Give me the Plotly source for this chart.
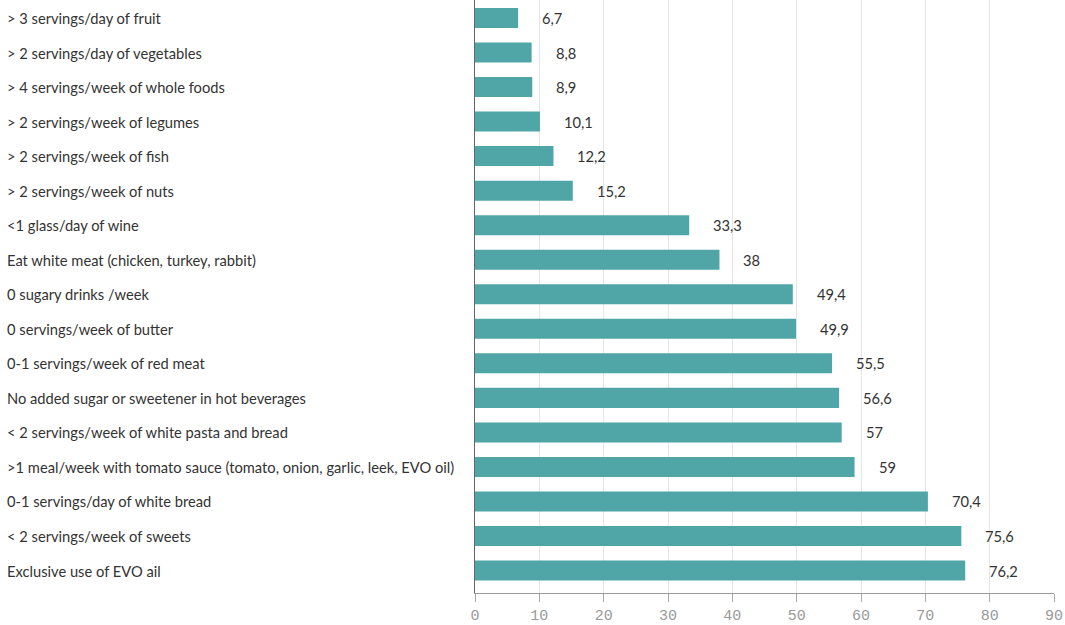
import plotly.graph_objects as go

categories = [
    "> 3 servings/day of fruit",
    "> 2 servings/day of vegetables",
    "> 4 servings/week of whole foods",
    "> 2 servings/week of legumes",
    "> 2 servings/week of fish",
    "> 2 servings/week of nuts",
    "<1 glass/day of wine",
    "Eat white meat (chicken, turkey, rabbit)",
    "0 sugary drinks /week",
    "0 servings/week of butter",
    "0-1 servings/week of red meat",
    "No added sugar or sweetener in hot beverages",
    "< 2 servings/week of white pasta and bread",
    ">1 meal/week with tomato sauce (tomato, onion, garlic, leek, EVO oil)",
    "0-1 servings/day of white bread",
    "< 2 servings/week of sweets",
    "Exclusive use of EVO ail",
]
values = [6.7, 8.8, 8.9, 10.1, 12.2, 15.2, 33.3, 38, 49.4, 49.9, 55.5, 56.6, 57, 59, 70.4, 75.6, 76.2]
x_ticks = [0, 10, 20, 30, 40, 50, 60, 70, 80, 90]

def fmt(v):
    s = ("%g" % v)
    return s.replace(".", ",")

idx = list(range(len(categories)))

fig = go.Figure()
fig.add_trace(go.Bar(
    x=values, y=idx, orientation="h",
    marker=dict(color="#50a6a7", line=dict(width=0)),
    width=0.58, hoverinfo="x+y",
))

ann = []
for i, (c, v) in enumerate(zip(categories, values)):
    ann.append(dict(x=-0.8118, xref="paper", y=i, yref="y", text=c, showarrow=False,
                    xanchor="left", yanchor="middle", font=dict(size=14.7, color="#333333")))
    ann.append(dict(x=v, xref="x", y=i, yref="y", text=fmt(v), showarrow=False,
                    xanchor="left", yanchor="middle", xshift=22,
                    font=dict(size=14.7, color="#333333")))

fig.update_layout(
    width=1065, height=625,
    margin=dict(l=475, r=11, t=0, b=32),
    plot_bgcolor="white", paper_bgcolor="white",
    font=dict(family="Lato, 'Source Sans Pro', sans-serif", size=14.7, color="#333333"),
    showlegend=False,
    annotations=ann,
    xaxis=dict(range=[0, 90], tickvals=x_ticks, ticktext=[str(t) for t in x_ticks],
               showgrid=True, gridcolor="#e6e6e6", gridwidth=1,
               showline=True, linecolor="#999999", linewidth=1,
               ticks="outside", ticklen=8, tickcolor="#aaaaaa",
               tickfont=dict(family="Liberation Mono, monospace", size=15, color="#999999"),
               zeroline=False),
    yaxis=dict(range=[16.65, -0.52], showticklabels=False, showgrid=False,
               showline=True, linecolor="#666666", linewidth=1, zeroline=False, ticks=""),
)

fig.write_html("out.html", config={"displayModeBar": False},
               post_script="document.body.style.margin='0';document.body.style.overflow='hidden';")
